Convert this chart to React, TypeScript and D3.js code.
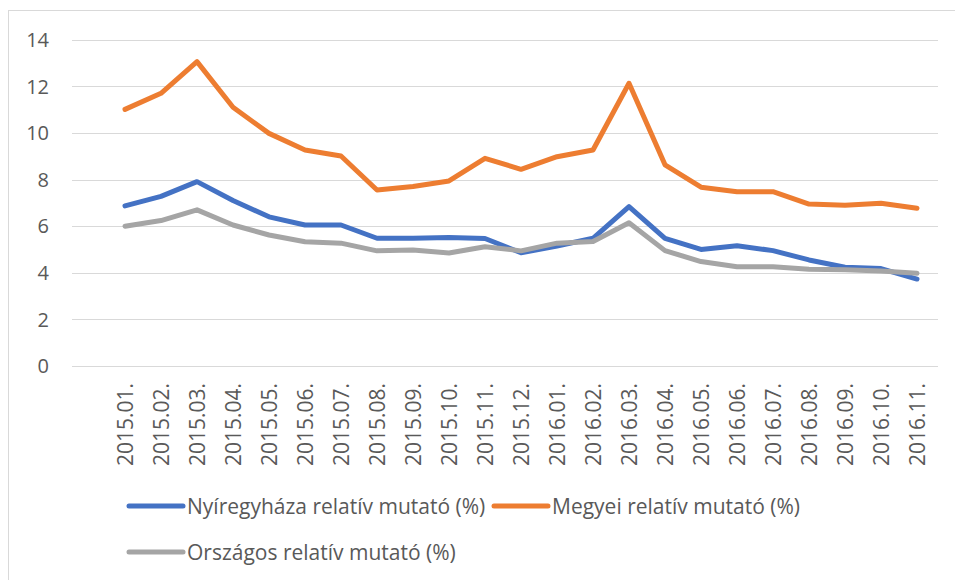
import { useEffect, useRef } from "react"
import * as d3 from "d3"

const categories = [
  "2015.01.", "2015.02.", "2015.03.", "2015.04.", "2015.05.", "2015.06.",
  "2015.07.", "2015.08.", "2015.09.", "2015.10.", "2015.11.", "2015.12.",
  "2016.01.", "2016.02.", "2016.03.", "2016.04.", "2016.05.", "2016.06.",
  "2016.07.", "2016.08.", "2016.09.", "2016.10.", "2016.11.",
]

const nyiregyhaza = [
  6.87, 7.28, 7.91, 7.1, 6.4, 6.05, 6.05, 5.48, 5.48, 5.51, 5.47, 4.86,
  5.15, 5.48, 6.84, 5.48, 5.0, 5.16, 4.95, 4.55, 4.24, 4.18, 3.73,
]

const megyei = [
  11.01, 11.7, 13.06, 11.1, 9.98, 9.27, 9.01, 7.55, 7.7, 7.94, 8.91, 8.44,
  8.98, 9.27, 12.13, 8.63, 7.67, 7.48, 7.48, 6.95, 6.9, 6.98, 6.77,
]

const orszagos = [
  6.0, 6.24, 6.7, 6.05, 5.62, 5.33, 5.27, 4.94, 4.98, 4.85, 5.12, 4.94,
  5.27, 5.34, 6.15, 4.95, 4.48, 4.26, 4.26, 4.15, 4.13, 4.08, 3.98,
]

const yTicks = [0, 2, 4, 6, 8, 10, 12, 14]

const series = [
  { name: "Nyíregyháza relatív mutató (%)", values: nyiregyhaza, color: "#4472C4" },
  { name: "Megyei relatív mutató (%)", values: megyei, color: "#ED7D31" },
  { name: "Országos relatív mutató (%)", values: orszagos, color: "#A5A5A5" },
]

const FONT = "'Open Sans', sans-serif"
const TEXT = "#595959"
const FS = 21

export default function App() {
  const svgRef = useRef<SVGSVGElement>(null)

  useEffect(() => {
    if (!svgRef.current) return
    const svg = d3.select(svgRef.current)
    svg.selectAll("*").remove()

    // chart frame
    svg
      .append("rect")
      .attr("x", 8.5)
      .attr("y", 10.5)
      .attr("width", 960)
      .attr("height", 600)
      .attr("fill", "#fff")
      .attr("stroke", "#D9D9D9")

    // first band stays empty, like the source
    const x = d3.scaleBand<string>().domain(["", ...categories]).range([71, 935])
    const cx = (c: string) => (x(c) as number) + x.bandwidth() / 2
    const y = d3.scaleLinear().domain([0, 14]).range([366, 39.7])

    // grid lines
    svg
      .append("g")
      .selectAll("line")
      .data(yTicks)
      .enter()
      .append("line")
      .attr("x1", 72)
      .attr("x2", 938)
      .attr("y1", (d) => Math.round(y(d)) + 0.5)
      .attr("y2", (d) => Math.round(y(d)) + 0.5)
      .attr("stroke", "#D9D9D9")
      .attr("stroke-width", 1.2)

    // y labels
    svg
      .append("g")
      .selectAll("text")
      .data(yTicks)
      .enter()
      .append("text")
      .attr("x", 49)
      .attr("y", (d) => y(d))
      .attr("dy", "0.36em")
      .attr("text-anchor", "end")
      .attr("font-family", FONT)
      .attr("font-size", FS - 1)
      .attr("fill", TEXT)
      .text((d) => d)

    // x labels, rotated
    svg
      .append("g")
      .selectAll("text")
      .data(categories)
      .enter()
      .append("text")
      .attr("transform", (d) => `translate(${cx(d)}, 383) rotate(-90)`)
      .attr("dy", "0.36em")
      .attr("text-anchor", "end")
      .attr("font-family", FONT)
      .attr("font-size", FS)
      .attr("fill", TEXT)
      .text((d) => d)

    // lines
    const line = d3
      .line<number>()
      .x((_, i) => cx(categories[i]))
      .y((d) => y(d))

    series.forEach((s) => {
      svg
        .append("path")
        .datum(s.values)
        .attr("d", line)
        .attr("fill", "none")
        .attr("stroke", s.color)
        .attr("stroke-width", 5)
        .attr("stroke-linejoin", "round")
        .attr("stroke-linecap", "round")
    })

    // legend
    const legendPos = [
      { x: 129, y: 506 },
      { x: 494, y: 506 },
      { x: 129, y: 552 },
    ]
    series.forEach((s, i) => {
      const p = legendPos[i]
      const g = svg.append("g").attr("transform", `translate(${p.x}, ${p.y})`)
      g.append("line")
        .attr("x1", 0)
        .attr("x2", 54)
        .attr("stroke", s.color)
        .attr("stroke-width", 5)
        .attr("stroke-linecap", "round")
      g.append("text")
        .attr("x", 58)
        .attr("dy", "0.36em")
        .attr("font-family", FONT)
        .attr("font-size", FS)
        .attr("fill", TEXT)
        .text(s.name)
    })
  }, [])

  return (
    <svg
      ref={svgRef}
      width={955}
      height={580}
      style={{ position: "absolute", left: 0, top: 0, display: "block" }}
    />
  )
}
